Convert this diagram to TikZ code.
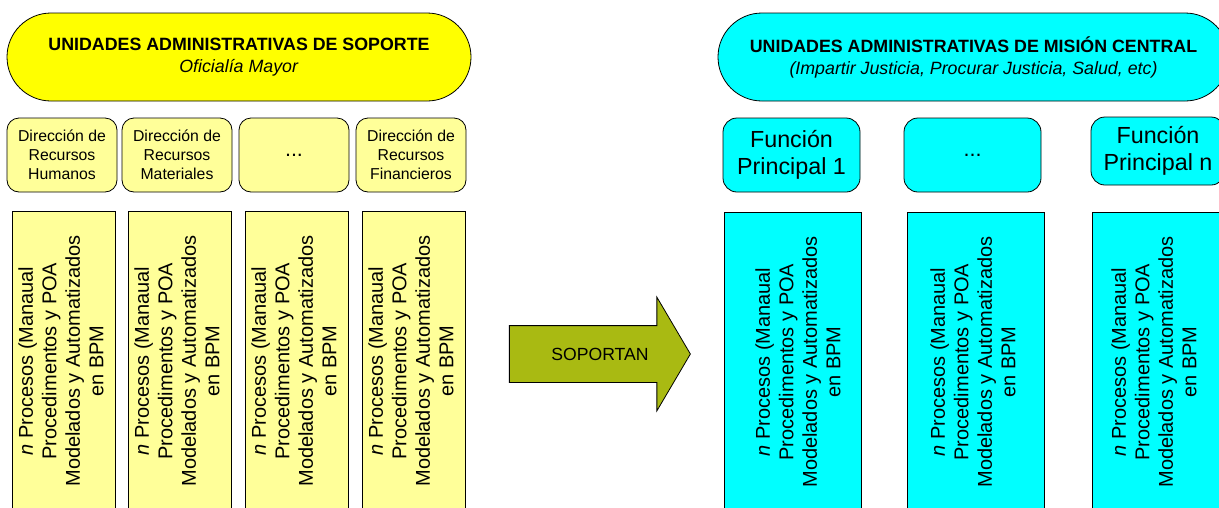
\documentclass[tikz,border=0pt]{standalone}
\usepackage{fontspec}
\setmainfont{Liberation Sans}
\usepackage{graphicx}
\usetikzlibrary{positioning,shapes.arrows}

\definecolor{amarillo}{HTML}{FFFF00}
\definecolor{amarilloclaro}{HTML}{FFFF99}
\definecolor{cian}{HTML}{00FFFF}
\definecolor{oliva}{HTML}{A9BA12}

\newcommand{\procesos}{\rotatebox{90}{\begin{tabular}{@{}c@{}}\textit{n} Procesos (Manaual\\Procedimentos y POA\\Modelados y Automatizados\\en BPM\end{tabular}}}
\newcommand{\puntos}{{\fontsize{21.5}{22}\selectfont ...}}

\begin{document}
\begin{tikzpicture}[x=1pt,y=-1pt,
		every node/.style={draw=black,line width=0.8pt,inner sep=0pt,outer sep=0pt},
		pill/.style={rounded corners=44pt,minimum height=88pt,anchor=north west,align=center,font=\fontsize{17.8}{22}\selectfont},
		dirbox/.style={rounded corners=12pt,minimum width=110pt,minimum height=74pt,anchor=north west,align=center,fill=amarilloclaro,font=\fontsize{15.8}{19}\selectfont},
		funbox/.style={rounded corners=14pt,minimum width=137pt,minimum height=74pt,anchor=north west,align=center,fill=cian,font=\fontsize{23.3}{27}\selectfont},
		procbox/.style={minimum width=103pt,minimum height=300pt,anchor=north west,font=\fontsize{20}{23.5}\selectfont}]
			\useasboundingbox (0,0) rectangle (1219,507);
			\clip (0,0) rectangle (1219,507);
			% soporte
			\node[pill,fill=amarillo,minimum width=464pt] (us) at (7,13) {\textbf{UNIDADES ADMINISTRATIVAS DE SOPORTE}\\\textit{Oficialía Mayor}};
			\node[dirbox] (d_1) at (7,118) {Dirección de\\Recursos\\Humanos};
			\node[dirbox] [right=5pt of d_1] (d_2) {Dirección de\\Recursos\\Materiales};
			\node[dirbox] [right=7pt of d_2] (d_3) {\puntos};
			\node[dirbox] [right=7pt of d_3] (d_4) {Dirección de\\Recursos\\Financieros};
			\node[procbox,fill=amarilloclaro] (p_1) at (12,211) {\procesos};
			\node[procbox,fill=amarilloclaro] [right=13pt of p_1] (p_2) {\procesos};
			\node[procbox,fill=amarilloclaro] [right=14pt of p_2] (p_3) {\procesos};
			\node[procbox,fill=amarilloclaro] [right=14pt of p_3] (p_4) {\procesos};
			% flecha
			\node[single arrow,fill=oliva,minimum height=181pt,single arrow head extend=28.5pt,single arrow tip angle=119,
				text height=12pt,text depth=0pt,inner ysep=22pt,font=\fontsize{17.6}{20}\selectfont] (sop) at (591.5,354) {\hspace*{17pt}SOPORTAN};
			% mision central
			\node[pill,fill=cian,minimum width=511pt] (um) at (718,13) {\textbf{UNIDADES ADMINISTRATIVAS DE MISIÓN CENTRAL}\\\textit{(Impartir Justicia, Procurar Justicia, Salud, etc)}};
			\node[funbox] (f_1) at (723,118) {Función\\Principal 1};
			\node[funbox] [right=44pt of f_1] (f_2) {\puntos};
			\node[funbox,minimum width=134pt,minimum height=68pt] (f_3) at (1091,117) {Función\\Principal n};
			\node[procbox,fill=cian,minimum width=137pt] (m_1) at (724,212) {\hspace*{16pt}\procesos};
			\node[procbox,fill=cian,minimum width=137pt] [right=46pt of m_1] (m_2) {\procesos};
			\node[procbox,fill=cian,minimum width=137pt] [right=48pt of m_2] (m_3) {\procesos\hspace*{8pt}};
		\end{tikzpicture}
\end{document}
